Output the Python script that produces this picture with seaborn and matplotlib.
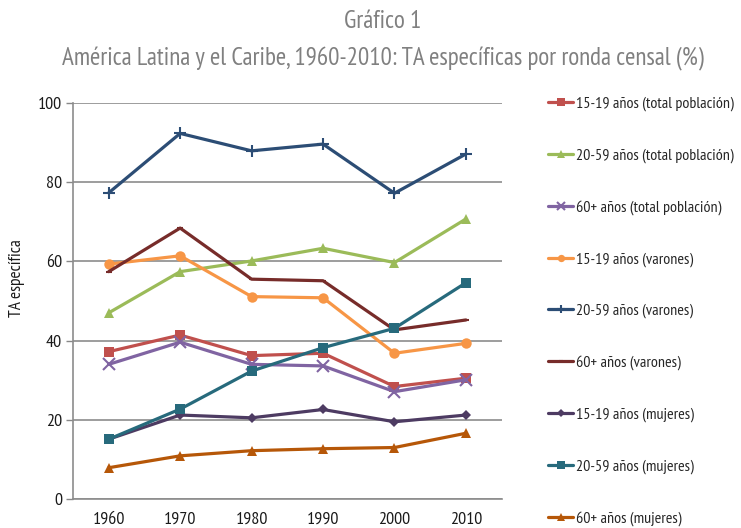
import matplotlib
matplotlib.use("Agg")
import matplotlib.pyplot as plt
import pandas as pd
import seaborn as sns

sns.set_theme(style="white")
plt.rcParams["font.family"] = ["PT Sans Narrow", "DejaVu Sans"]

years = [1960, 1970, 1980, 1990, 2000, 2010]

series_names = [
    "15-19 años (total población)",
    "20-59 años (total población)",
    "60+ años (total población)",
    "15-19 años (varones)",
    "20-59 años (varones)",
    "60+ años (varones)",
    "15-19 años (mujeres)",
    "20-59 años (mujeres)",
    "60+ años (mujeres)",
]

total_15_19 = [37.2, 41.4, 36.2, 36.8, 28.4, 30.5]
total_20_59 = [47.0, 57.4, 60.1, 63.3, 59.7, 70.7]
total_60 = [34.0, 39.6, 34.0, 33.6, 27.1, 30.1]
varones_15_19 = [59.3, 61.4, 51.1, 50.8, 36.8, 39.3]
varones_20_59 = [77.3, 92.3, 87.9, 89.6, 77.2, 87.1]
varones_60 = [57.4, 68.4, 55.5, 55.1, 42.7, 45.2]
mujeres_15_19 = [15.1, 21.2, 20.5, 22.6, 19.5, 21.2]
mujeres_20_59 = [15.1, 22.7, 32.3, 38.2, 43.1, 54.6]
mujeres_60 = [7.9, 10.9, 12.2, 12.7, 13.0, 16.6]

values = [total_15_19, total_20_59, total_60,
          varones_15_19, varones_20_59, varones_60,
          mujeres_15_19, mujeres_20_59, mujeres_60]

colors = ["#C0504D", "#9BBB59", "#8064A2", "#F79646", "#2C4D75",
          "#772C2A", "#4D3B62", "#276A7C", "#B65708"]
markers = ["s", "^", "x", "o", "+", "_", "D", "s", "^"]
msizes = [7.5, 7.5, 8, 7.5, 9, 5, 5.5, 7.5, 7.5]

rows = []
for name, vals in zip(series_names, values):
    for yr, v in zip(years, vals):
        rows.append({"serie": name, "año": yr, "valor": v})
df = pd.DataFrame(rows)

fig = plt.figure(figsize=(7.41, 5.28), dpi=100)
ax = fig.add_axes([0.0985, 0.0549, 0.5785, 0.7502])

handles = []
for name, col, mk, ms in zip(series_names, colors, markers, msizes):
    sub = df[df["serie"] == name]
    sns.lineplot(data=sub, x="año", y="valor", ax=ax, color=col, marker=mk,
                 markersize=ms, linewidth=2.3,
                 markeredgewidth=1.5 if mk in "x+_" else 0,
                 markeredgecolor=col, label=name)
    handles.append(ax.lines[-1])

ax.set_xlim(1955, 2015)
ax.set_ylim(0, 100)
ax.set_xticks(years)
ax.set_yticks([0, 20, 40, 60, 80, 100])
ax.tick_params(axis="x", length=0, labelsize=13, pad=9)
ax.tick_params(axis="y", length=5, width=1, color="#888888", labelsize=13,
               pad=3, left=True)
for lbl in ax.get_xticklabels() + ax.get_yticklabels():
    lbl.set_color("#1a1a1a")
ax.yaxis.grid(True, color="#8c8c8c", linewidth=1.2)
ax.xaxis.grid(False)
ax.set_axisbelow(True)
for s in ["top", "right"]:
    ax.spines[s].set_visible(False)
for s in ["left", "bottom"]:
    ax.spines[s].set_color("#8c8c8c")
    ax.spines[s].set_linewidth(1.2)
ax.set_xlabel("")
ax.set_ylabel("TA específica", fontsize=12.5, color="#1a1a1a")
ax.yaxis.set_label_coords(-0.112, 0.557)
ax.get_legend().remove()

fig.legend(handles, series_names, loc="upper left",
           bbox_to_anchor=(0.731, 0.829), frameon=False, fontsize=11.5,
           labelspacing=2.32, handlelength=1.56, handletextpad=0.2,
           markerscale=0.7, borderaxespad=0)

fig.text(0.517, 0.960, "Gráfico 1", ha="center", va="center",
         fontsize=18, color="#808080")
fig.text(0.517, 0.889,
         "América Latina y el Caribe, 1960-2010: TA específicas por ronda censal (%)",
         ha="center", va="center", fontsize=18, color="#808080")

fig.savefig("out.png", dpi=100)
